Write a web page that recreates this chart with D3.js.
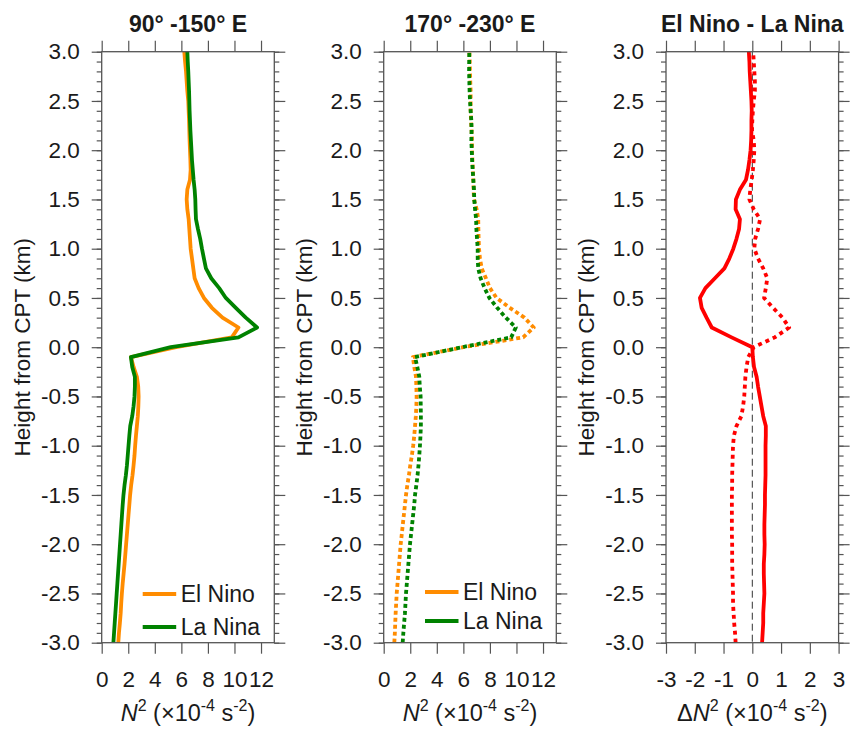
<!DOCTYPE html>
<meta charset="utf-8">
<style>
  body { margin: 0; background: #fff; }
  text { font-family: "Liberation Sans", Arial, sans-serif; fill: #1a1a1a; }
</style>
<body>
<svg width="852" height="729"></svg>
<script src="https://cdn.jsdelivr.net/npm/d3@7"></script>
<script>

// height above/below the cold point tropopause (km)
const heights = [
  -3.0, -2.9, -2.8, -2.7, -2.6, -2.5, -2.4, -2.3, -2.2, -2.1,
  -2.0, -1.9, -1.8, -1.7, -1.6, -1.5, -1.4, -1.3, -1.2, -1.1,
  -1.0, -0.9, -0.8, -0.7, -0.6, -0.5, -0.4, -0.3, -0.2, -0.1,
  0.0, 0.1, 0.2, 0.3, 0.4, 0.5, 0.6, 0.7, 0.8, 0.9,
  1.0, 1.1, 1.2, 1.3, 1.4, 1.5, 1.6, 1.7, 1.8, 1.9,
  2.0, 2.1, 2.2, 2.3, 2.4, 2.5, 2.6, 2.7, 2.8, 2.9, 3.0
];

// 90-150E, N^2 (1e-4 s^-2)
const westElNino = [
  1.25, 1.30, 1.37, 1.43, 1.47, 1.52, 1.58, 1.65, 1.72, 1.78,
  1.84, 1.90, 1.96, 2.02, 2.08, 2.14, 2.22, 2.32, 2.40, 2.47,
  2.52, 2.58, 2.65, 2.72, 2.76, 2.78, 2.75, 2.65, 2.40, 2.20,
  5.6, 9.8, 10.3, 9.1, 8.3, 7.7, 7.3, 7.0, 6.9, 6.8,
  6.7, 6.65, 6.6, 6.55, 6.45, 6.4, 6.45, 6.65, 6.7, 6.68,
  6.65, 6.62, 6.6, 6.58, 6.55, 6.52, 6.45, 6.4, 6.35, 6.28, 6.22
];
const westLaNina = [
  0.88, 0.93, 0.98, 1.03, 1.08, 1.13, 1.18, 1.23, 1.28, 1.33,
  1.38, 1.43, 1.48, 1.53, 1.58, 1.64, 1.72, 1.82, 1.90, 1.96,
  2.02, 2.08, 2.15, 2.30, 2.40, 2.47, 2.50, 2.50, 2.30, 2.20,
  5.2, 10.3, 11.7, 10.85, 10.1, 9.35, 8.85, 8.25, 7.85, 7.7,
  7.55, 7.42, 7.25, 7.1, 7.07, 7.05, 7.0, 6.92, 6.86, 6.8,
  6.76, 6.72, 6.68, 6.65, 6.62, 6.6, 6.58, 6.55, 6.52, 6.48, 6.45
];

// 170-230E
const eastElNino = [
  0.80, 0.84, 0.87, 0.90, 0.94, 0.98, 1.04, 1.10, 1.16, 1.22,
  1.28, 1.36, 1.44, 1.52, 1.60, 1.68, 1.78, 1.90, 2.00, 2.12,
  2.22, 2.30, 2.36, 2.42, 2.46, 2.48, 2.46, 2.43, 2.30, 2.20,
  6.0, 10.5, 11.3, 10.6, 9.5, 8.5, 8.0, 7.7, 7.38, 7.25,
  7.18, 7.15, 7.13, 7.12, 7.0, 6.8, 6.77, 6.75, 6.72, 6.68,
  6.65, 6.65, 6.62, 6.58, 6.55, 6.55, 6.55, 6.52, 6.5, 6.48, 6.45
];
const eastLaNina = [
  1.43, 1.48, 1.54, 1.60, 1.64, 1.68, 1.74, 1.80, 1.86, 1.92,
  1.98, 2.06, 2.14, 2.22, 2.30, 2.36, 2.46, 2.55, 2.62, 2.68,
  2.73, 2.77, 2.80, 2.80, 2.79, 2.78, 2.72, 2.68, 2.53, 2.36,
  5.9, 9.6, 9.95, 9.2, 8.55, 7.96, 7.6, 7.3, 7.12, 7.08,
  7.08, 7.03, 6.98, 6.96, 6.88, 6.82, 6.8, 6.75, 6.7, 6.66,
  6.63, 6.6, 6.62, 6.6, 6.55, 6.5, 6.47, 6.45, 6.43, 6.44, 6.45
];

// El Nino minus La Nina
const westDiff = [
  0.34, 0.36, 0.38, 0.38, 0.40, 0.42, 0.41, 0.40, 0.40, 0.42,
  0.43, 0.42, 0.42, 0.43, 0.44, 0.44, 0.45, 0.46, 0.46, 0.46,
  0.46, 0.47, 0.47, 0.38, 0.32, 0.26, 0.20, 0.15, 0.06, 0.02,
  0.0, -0.72, -1.41, -1.59, -1.76, -1.82, -1.63, -1.3, -0.97, -0.8,
  -0.66, -0.55, -0.46, -0.43, -0.58, -0.57, -0.43, -0.22, -0.15, -0.1,
  -0.06, -0.04, -0.03, -0.03, -0.02, -0.03, -0.05, -0.07, -0.09, -0.1, -0.12
];
const eastDiff = [
  -0.58, -0.60, -0.63, -0.65, -0.67, -0.67, -0.68, -0.69, -0.70, -0.70,
  -0.70, -0.71, -0.71, -0.71, -0.71, -0.71, -0.70, -0.70, -0.69, -0.68,
  -0.67, -0.64, -0.55, -0.38, -0.32, -0.28, -0.26, -0.24, -0.20, -0.14,
  0.05, 0.78, 1.28, 1.05, 0.72, 0.41, 0.47, 0.52, 0.38, 0.2,
  0.07, 0.1, 0.2, 0.27, 0.05, -0.1, -0.07, -0.02, 0.02, 0.05,
  0.07, 0.05, -0.01, 0.0, 0.02, 0.05, 0.09, 0.09, 0.07, 0.05, 0.03
];

const titles = ["90\u00b0 -150\u00b0 E", "170\u00b0 -230\u00b0 E", "El Nino - La Nina"];
const legendNames = ["El Nino", "La Nina"];
const n2Ticks = [0, 2, 4, 6, 8, 10, 12];
const diffTicks = [-3, -2, -1, 0, 1, 2, 3];

const ORANGE = "#ff8c00", GREEN = "#008200", RED = "#ff0000";

const svg = d3.select("svg");
const plotTop = 51.7, plotBottom = 642.7, pw = 172.6;
const lefts = [101.7, 383.7, 666];

const y = d3.scaleLinear().domain([-3, 3]).range([plotBottom, plotTop]);
const fmt = v => d3.format(".1f")(v).replace("\u2212", "-");

const panels = [
  { domain: [0, 13], ticks: n2Ticks, title: titles[0], delta: false,
    series: [{ v: westElNino, c: ORANGE }, { v: westLaNina, c: GREEN }],
    legend: { x: 142.7, y: [594, 627] } },
  { domain: [0, 13], ticks: n2Ticks, title: titles[1], delta: false,
    series: [{ v: eastElNino, c: ORANGE, dash: "4,3" }, { v: eastLaNina, c: GREEN, dash: "4,3" }],
    legend: { x: 425, y: [592, 621] } },
  { domain: [-3, 3], ticks: diffTicks, title: titles[2], delta: true,
    series: [{ v: westDiff, c: RED }, { v: eastDiff, c: RED, dash: "4,4" }] }
];

panels.forEach((p, i) => {
  const x0 = lefts[i];
  const x = d3.scaleLinear().domain(p.domain).range([x0, x0 + pw]);
  const g = svg.append("g");

  // minor + major y ticks on both sides
  const minor = heights;
  const major = [-3, -2.5, -2, -1.5, -1, -0.5, 0, 0.5, 1, 1.5, 2, 2.5, 3];
  g.append("g").attr("transform", `translate(${x0},0)`)
    .call(d3.axisLeft(y).tickValues(minor).tickSize(5).tickSizeOuter(0).tickFormat(""));
  g.append("g").attr("transform", `translate(${x0},0)`)
    .call(d3.axisLeft(y).tickValues(major).tickSize(10).tickSizeOuter(0).tickPadding(12).tickFormat(fmt));
  g.append("g").attr("transform", `translate(${x0 + pw},0)`)
    .call(d3.axisRight(y).tickValues(minor).tickSize(5).tickSizeOuter(0).tickFormat(""));
  g.append("g").attr("transform", `translate(${x0 + pw},0)`)
    .call(d3.axisRight(y).tickValues(major).tickSize(11).tickSizeOuter(0).tickFormat(""));

  // x ticks top and bottom
  g.append("g").attr("transform", `translate(0,${plotBottom})`)
    .call(d3.axisBottom(x).tickValues(p.ticks).tickSize(11).tickSizeOuter(0).tickPadding(17)
      .tickFormat(d => String(d).replace("\u2212", "-")));
  g.append("g").attr("transform", `translate(0,${plotTop})`)
    .call(d3.axisTop(x).tickValues(p.ticks).tickSize(11).tickSizeOuter(0).tickFormat(""));

  g.selectAll(".tick line").attr("stroke", "#555").attr("stroke-width", 1.2);
  g.selectAll(".domain").attr("stroke", "none");
  g.selectAll(".tick text").attr("font-size", 22.5).attr("fill", "#1a1a1a")
    .attr("font-family", "Liberation Sans, Arial, sans-serif");

  if (p.delta) {
    g.append("line")
      .attr("x1", x(0)).attr("x2", x(0)).attr("y1", plotTop).attr("y2", plotBottom)
      .attr("stroke", "#333").attr("stroke-width", 1).attr("stroke-dasharray", "7,4");
  }

  const line = d3.line().x(d => x(d[1])).y(d => y(d[0]));
  p.series.forEach(s => {
    g.append("path")
      .datum(heights.map((h, k) => [h, s.v[k]]))
      .attr("d", line)
      .attr("fill", "none")
      .attr("stroke", s.c)
      .attr("stroke-width", 3.8)
      .attr("stroke-linejoin", "round")
      .attr("stroke-dasharray", s.dash || null);
  });

  // frame
  g.append("rect")
    .attr("x", x0).attr("y", plotTop).attr("width", pw).attr("height", plotBottom - plotTop)
    .attr("fill", "none").attr("stroke", "#555").attr("stroke-width", 1.3);

  // legend
  if (p.legend) {
    p.series.forEach((s, k) => {
      const ly = p.legend.y[k];
      g.append("line")
        .attr("x1", p.legend.x).attr("x2", p.legend.x + 33.5)
        .attr("y1", ly).attr("y2", ly)
        .attr("stroke", s.c).attr("stroke-width", 3.8);
      g.append("text")
        .attr("x", p.legend.x + 38).attr("y", ly).attr("dy", "0.36em")
        .attr("font-size", 23).text(legendNames[k]);
    });
  }

  // title
  svg.append("text")
    .attr("x", x0 + pw / 2).attr("y", 31.5)
    .attr("text-anchor", "middle").attr("font-size", 23).attr("font-weight", "bold")
    .text(p.title);

  // y axis title
  svg.append("text")
    .attr("transform", `translate(${x0 - 80},${(plotTop + plotBottom) / 2}) rotate(-90)`)
    .attr("text-anchor", "middle").attr("dy", "0.36em").attr("font-size", 22.5)
    .text("Height from CPT (km)");

  // x axis title
  const xt = svg.append("text")
    .attr("x", x0 + pw / 2).attr("y", 721)
    .attr("text-anchor", "middle").attr("font-size", 23.5);
  if (p.delta) xt.append("tspan").text("\u0394");
  xt.append("tspan").attr("font-style", "italic").text("N");
  xt.append("tspan").attr("font-size", 16).attr("dy", -10).text("2");
  xt.append("tspan").attr("dy", 10).text(" (\u00d710");
  xt.append("tspan").attr("font-size", 16).attr("dy", -10).text("-4");
  xt.append("tspan").attr("dy", 10).text(" s");
  xt.append("tspan").attr("font-size", 16).attr("dy", -10).text("-2");
  xt.append("tspan").attr("dy", 10).text(")");
});

</script>
</body>
